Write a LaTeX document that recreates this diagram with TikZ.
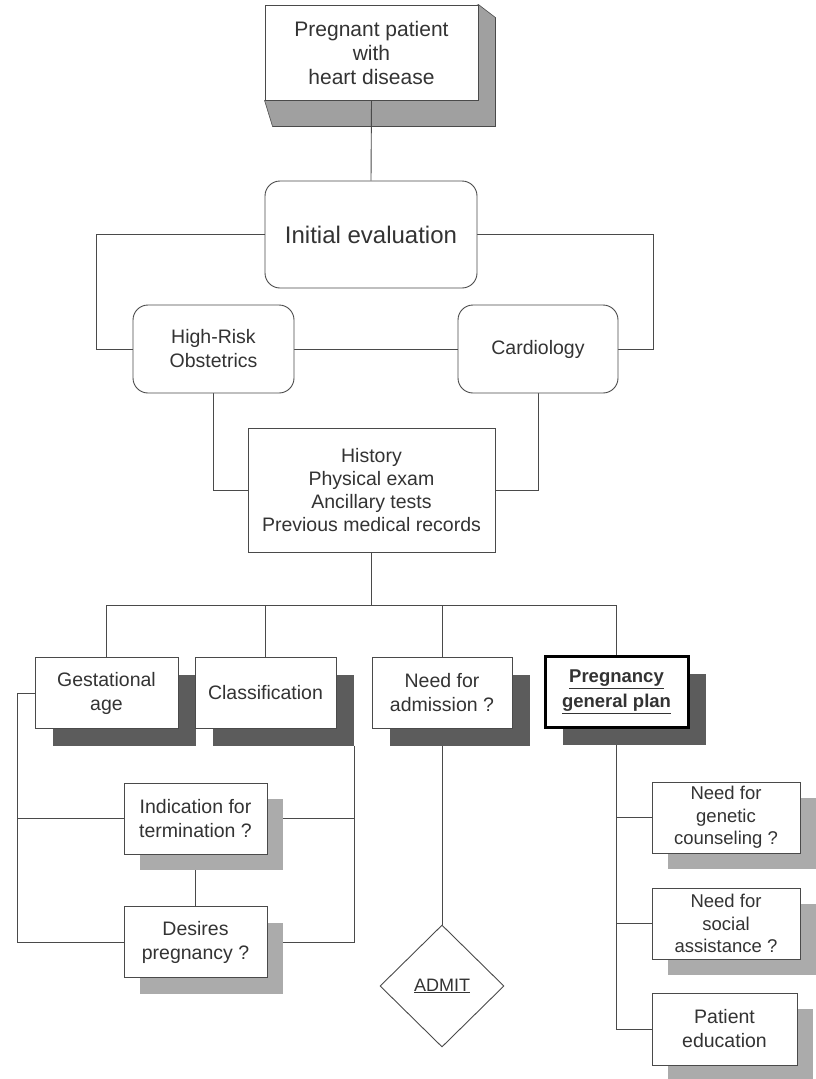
\documentclass[tikz,border=0pt]{standalone}
\usepackage{fontspec}
\setsansfont{Liberation Sans}
\usetikzlibrary{arrows.meta, positioning, shapes.geometric, calc, backgrounds, shadows}
\definecolor{cline}{HTML}{4A4A4A}
\definecolor{ctext}{HTML}{333333}
\definecolor{cshade}{HTML}{5C5C5C}
\definecolor{clight}{HTML}{ABABAB}
\definecolor{cslab}{HTML}{A0A0A0}
\tikzset{
  every picture/.style={font=\sffamily, line width=0.9pt},
  box/.style={draw=cline, fill=white, text=ctext, align=center, inner sep=2pt,
    minimum width=143pt, minimum height=71pt, font=\sffamily\fontsize{19.5}{24}\selectfont},
  rbox/.style={box, rounded corners=15pt},
  deep/.style={drop shadow={shadow xshift=18pt, shadow yshift=-17pt, fill=cshade, opacity=1}},
  soft/.style={drop shadow={shadow xshift=16pt, shadow yshift=-16pt, fill=clight, opacity=1}},
  link/.style={draw=cline, line width=0.9pt},
  trio/.style={font=\sffamily\fontsize{18.5}{22.5}\selectfont},
}

\begin{document}
\begin{tikzpicture}[x=1pt, y=-1pt]
  % ---------- top: patient and evaluation ----------
  \node[box, minimum width=213pt, minimum height=95pt, font=\sffamily\fontsize{21}{24}\selectfont] (patient) at (371.5,52.5) {Pregnant patient\\with\\heart disease};
  \node[rbox, minimum width=212pt, minimum height=107pt, font=\sffamily\fontsize{24}{28}\selectfont] (init) at (371,234.5) {Initial evaluation};
  \node[rbox, minimum width=161pt, minimum height=88pt] (hro) at (213.5,349) {High-Risk\\Obstetrics};
  \node[rbox, minimum width=160pt, minimum height=88pt] (cardio) at (538,349) {Cardiology};
  \node[box, minimum width=247pt, minimum height=124pt, font=\sffamily\fontsize{19.5}{23}\selectfont] (hist) at (371.5,490) {History\\Physical exam\\Ancillary tests\\Previous medical records};
  % ---------- middle row ----------
  \node[box, deep] (gest) at (106.5,693) {Gestational\\age};
  \node[box, deep, minimum width=141pt] (clas) at (265.5,693) {Classification};
  \node[box, deep, minimum width=140pt] (adm) at (442,693) {Need for\\admission ?};
  \node[box, deep, draw=black, line width=3pt, font=\sffamily\bfseries\fontsize{18.5}{25}\selectfont] (plan) at (616.5,692) {\underline{Pregnancy}\\\underline{general plan}};
  % ---------- lower boxes ----------
  \node[box, soft] (ind) at (195.5,818.5) {Indication for\\termination ?};
  \node[box, soft] (des) at (195.5,942) {Desires\\pregnancy ?};
  \node[diamond, draw=cline, fill=white, text=ctext, minimum width=124pt, minimum height=122pt, inner sep=0pt, font=\sffamily\fontsize{18}{22}\selectfont] (admit) at (442,986) {\underline{ADMIT}};
  \node[box, soft, trio, minimum width=148pt] (gen) at (726,817.5) {Need for\\genetic\\counseling ?};
  \node[box, soft, trio, minimum width=148pt] (soc) at (726,923.5) {Need for\\social\\assistance ?};
  \node[box, soft, minimum width=145pt, minimum height=72pt] (edu) at (724.5,1029) {Patient\\education};

  \begin{scope}[on background layer]
    \path[use as bounding box, fill=white] (0,0) rectangle (815,1079);
    % slab under the first box
    \filldraw[fill=cslab, draw=cline, line width=0.6pt] (patient.south west) -- ($(patient.south west)+(8,26)$) -- ($(patient.south east)+(17,26)$) -- ($(patient.north east)+(17,13)$) -- (patient.north east) -- cycle;
    % connectors
    \draw[link] (patient.south) -- (init.north);
    \draw[link] (init.west) -- ++(-168,0) |- (hro.west);
    \draw[link] (init.east) -- ++(176,0) |- (cardio.east);
    \draw[link] (hro.east) -- (cardio.west);
    \draw[link] (hro.south) |- (hist.west);
    \draw[link] (cardio.south) |- (hist.east);
    \coordinate (bus) at ($(hist.south)+(0,53)$);
    \draw[link] (hist.south) -- (bus);
    \draw[link] (gest.north) |- (bus) -| (plan.north);
    \draw[link] (clas.north) -- (clas.north |- bus);
    \draw[link] (adm.north) -- (adm.north |- bus);
    \draw[link] (adm.south) -- (admit.north);
    % left and right rails round the termination questions
    \coordinate (lrail) at (17,693);
    \draw[link] (gest.west) -- (lrail) |- (des.west);
    \draw[link] (lrail) |- (ind.west);
    \coordinate (rrail) at ($(clas.south east)+(18,17)$);
    \draw[link] (rrail) |- (ind.east);
    \draw[link] (rrail) |- (des.east);
    \draw[link] (ind.south) -- (des.north);
    % plan branches
    \draw[link] (plan.south) |- (gen.west);
    \draw[link] (plan.south) |- (soc.west);
    \draw[link] (plan.south) |- (edu.west);
  \end{scope}
\end{tikzpicture}
\end{document}
